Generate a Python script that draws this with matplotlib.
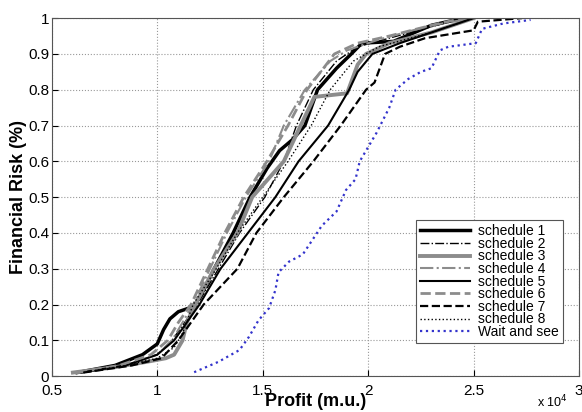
import numpy as np
import matplotlib
matplotlib.use('Agg')
import matplotlib.pyplot as plt

plt.rcParams['font.family'] = ['Liberation Sans', 'DejaVu Sans']

# profit values are in units of 1e4 m.u., risk is cumulative fraction
s1_x = [0.62, 0.80, 0.93, 1.00, 1.03, 1.06, 1.10, 1.15, 1.18, 1.22, 1.27, 1.36, 1.44, 1.49, 1.52, 1.58, 1.64, 1.70, 1.76, 1.85, 1.92, 1.97, 2.12, 2.30, 2.45]
s1_y = [0.01, 0.03, 0.06, 0.09, 0.13, 0.16, 0.18, 0.19, 0.20, 0.24, 0.30, 0.40, 0.50, 0.55, 0.58, 0.63, 0.66, 0.70, 0.80, 0.86, 0.90, 0.93, 0.935, 0.98, 1.00]

s2_x = [0.64, 0.85, 1.00, 1.07, 1.13, 1.19, 1.29, 1.39, 1.51, 1.60, 1.66, 1.74, 1.85, 1.95, 2.20, 2.45]
s2_y = [0.01, 0.03, 0.06, 0.10, 0.15, 0.20, 0.30, 0.40, 0.50, 0.60, 0.70, 0.80, 0.88, 0.92, 0.96, 1.00]

s3_x = [0.60, 0.80, 0.95, 1.04, 1.08, 1.10, 1.12, 1.14, 1.18, 1.27, 1.38, 1.45, 1.60, 1.68, 1.745, 1.90, 1.95, 1.99, 2.10, 2.30, 2.50]
s3_y = [0.01, 0.025, 0.04, 0.05, 0.06, 0.08, 0.10, 0.15, 0.20, 0.30, 0.40, 0.50, 0.60, 0.70, 0.78, 0.79, 0.87, 0.90, 0.93, 0.96, 1.00]

s4_x = [0.63, 0.85, 1.00, 1.07, 1.12, 1.17, 1.25, 1.33, 1.42, 1.53, 1.60, 1.70, 1.82, 1.90, 2.05, 2.30, 2.50]
s4_y = [0.01, 0.03, 0.06, 0.10, 0.15, 0.20, 0.30, 0.40, 0.50, 0.60, 0.70, 0.80, 0.88, 0.91, 0.94, 0.98, 1.00]

s5_x = [0.64, 0.85, 1.00, 1.08, 1.14, 1.20, 1.30, 1.43, 1.56, 1.67, 1.81, 1.91, 1.95, 2.02, 2.15, 2.35, 2.50]
s5_y = [0.01, 0.03, 0.06, 0.10, 0.15, 0.20, 0.30, 0.40, 0.50, 0.60, 0.70, 0.80, 0.85, 0.90, 0.93, 0.97, 1.00]

s6_x = [0.62, 0.82, 0.97, 1.05, 1.10, 1.16, 1.24, 1.32, 1.41, 1.52, 1.62, 1.71, 1.84, 1.95, 2.10, 2.30, 2.45]
s6_y = [0.01, 0.03, 0.06, 0.10, 0.15, 0.20, 0.30, 0.40, 0.50, 0.60, 0.70, 0.80, 0.90, 0.93, 0.95, 0.98, 1.00]

s7_x = [0.65, 0.88, 1.02, 1.10, 1.16, 1.22, 1.38, 1.47, 1.60, 1.74, 1.87, 1.99, 2.03, 2.08, 2.15, 2.27, 2.50, 2.52, 2.73]
s7_y = [0.01, 0.03, 0.05, 0.10, 0.15, 0.20, 0.30, 0.40, 0.50, 0.60, 0.70, 0.80, 0.82, 0.90, 0.92, 0.944, 0.966, 0.99, 1.00]

s8_x = [0.65, 0.85, 1.00, 1.08, 1.12, 1.17, 1.28, 1.38, 1.50, 1.62, 1.73, 1.82, 1.93, 2.05, 2.30, 2.50]
s8_y = [0.01, 0.03, 0.05, 0.08, 0.12, 0.20, 0.30, 0.40, 0.50, 0.60, 0.70, 0.80, 0.88, 0.92, 0.96, 1.00]

ws_x = [1.175, 1.29, 1.39, 1.435, 1.48, 1.53, 1.56, 1.575, 1.625, 1.69, 1.735, 1.78, 1.85, 1.895, 1.94, 1.96, 2.04, 2.10, 2.13, 2.19, 2.25, 2.30, 2.34, 2.38, 2.51, 2.54, 2.64, 2.77]
ws_y = [0.011, 0.04, 0.073, 0.11, 0.156, 0.19, 0.24, 0.29, 0.32, 0.34, 0.38, 0.42, 0.46, 0.52, 0.55, 0.60, 0.68, 0.75, 0.80, 0.83, 0.85, 0.86, 0.91, 0.92, 0.93, 0.97, 0.985, 0.995]

fig = plt.figure(figsize=(5.82, 4.12), dpi=100)
ax = fig.add_axes([0.089, 0.087, 0.906, 0.869])

ax.plot(s1_x, s1_y, color='black', lw=2.5, ls='-', label='schedule 1')
ax.plot(s2_x, s2_y, color='black', lw=1.0, ls='-.', label='schedule 2')
ax.plot(s3_x, s3_y, color='#8c8c8c', lw=2.8, ls='-', label='schedule 3')
ax.plot(s4_x, s4_y, color='#8c8c8c', lw=1.5, ls='-.', label='schedule 4')
ax.plot(s5_x, s5_y, color='black', lw=1.5, ls='-', label='schedule 5')
ax.plot(s6_x, s6_y, color='#8c8c8c', lw=2.0, ls='--', label='schedule 6')
ax.plot(s7_x, s7_y, color='black', lw=1.6, ls='--', label='schedule 7')
ax.plot(s8_x, s8_y, color='black', lw=1.0, ls=':', label='schedule 8')
ax.plot(ws_x, ws_y, color='#3333cc', lw=1.6, ls=':', label='Wait and see')

ax.set_xlim(0.5, 3)
ax.set_ylim(0, 1)
ax.set_xticks([0.5, 1, 1.5, 2, 2.5, 3])
ax.set_xticklabels(['0.5', '1', '1.5', '2', '2.5', '3'])
ax.set_yticks(np.arange(0, 1.01, 0.1))
ax.set_yticklabels(['0', '0.1', '0.2', '0.3', '0.4', '0.5', '0.6', '0.7', '0.8', '0.9', '1'])
ax.tick_params(direction='in', labelsize=11, length=4, pad=2)
ax.tick_params(axis='x', pad=6)
ax.grid(True, ls=':', color='#999999', lw=0.8)
for sp in ax.spines.values():
    sp.set_color('#555555')

ax.set_xlabel('Profit (m.u.)', fontsize=13, fontweight='bold', labelpad=-4)
ax.set_ylabel('Financial Risk (%)', fontsize=13, fontweight='bold', labelpad=1)
fig.text(0.975, 0.005, r'x 10$^4$', fontsize=9, ha='right', va='bottom')

leg = ax.legend(loc='lower right', bbox_to_anchor=(0.97, 0.092), fontsize=10,
                labelspacing=-0.1, handlelength=3.6, handletextpad=0.6,
                borderpad=0.3, borderaxespad=0,
                fancybox=False, framealpha=1, edgecolor='#555555')
leg.get_frame().set_linewidth(0.8)

fig.savefig('out.png', dpi=100)
